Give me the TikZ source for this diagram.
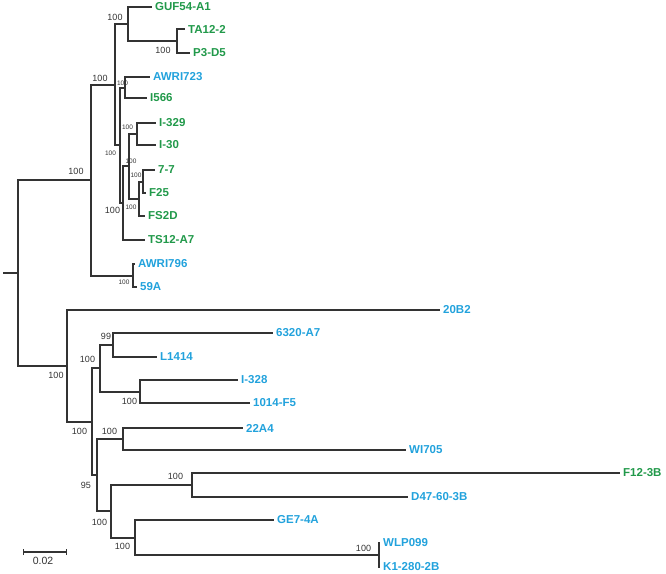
\documentclass[tikz,border=0pt]{standalone}
\usepackage{fontspec}
\setmainfont{Liberation Sans}
\usetikzlibrary{arrows.meta}
\definecolor{greenstrain}{HTML}{21994A}
\definecolor{bluestrain}{HTML}{22A2DC}
\definecolor{branchcolor}{HTML}{333333}
\tikzset{
  phy branch/.style={draw=branchcolor,line width=1.8pt},
  phy leaf/.style={anchor=west,inner xsep=3pt,inner ysep=0pt,font=\fontsize{11.5}{11.5}\selectfont\bfseries},
  phy boot/.style={text=branchcolor,inner sep=0pt,font=\fontsize{9}{9}\selectfont},
  phy bootsmall/.style={text=branchcolor,inner sep=0pt,font=\fontsize{6.5}{6.5}\selectfont},
  phy scale/.style={draw=branchcolor,line width=1.3pt,{Bar[width=6pt]}-{Bar[width=6pt]}}
}

\begin{document}
\begin{tikzpicture}[x=1pt,y=-1pt]
  \useasboundingbox (0,0) rectangle (666,573);
  % inner nodes
  \foreach \nm/\x/\y in {root/18/273,n1/91/180,nA/115/85,nB/128/24,nK/177/41,nC/120/145,
      nD/125/88,nE/123/203,nF/129/166,nG/137/134,nH/139/199,nI/143/182,nJ/133/276,
      n2/67/366,n3/92/422,n4/100/368,n6/113/345,n7/140/392,n5/97/475,n8/123/439,
      n9/111/511,n10/192/485,n11/135/538,n12/379/555}{\coordinate (\nm) at (\x,\y);}
  \coordinate (stub) at (3,273);
  % strains
  \foreach \nm/\x/\y/\lab/\col in {guf/152/7/GUF54-A1/greenstrain,ta/185/29/TA12-2/greenstrain,
      p3/190/53/P3-D5/greenstrain,awri723/150/77/AWRI723/bluestrain,i566/147/98/I566/greenstrain,
      i329/156/123/I-329/greenstrain,i30/156/145/I-30/greenstrain,sevn/155/170/7-7/greenstrain,
      f25/146/193/F25/greenstrain,fs2d/145/216/FS2D/greenstrain,ts/145/240/TS12-A7/greenstrain,
      awri796/135/264/AWRI796/bluestrain,a59/137/287/59A/bluestrain,b20/440/310/20B2/bluestrain,
      a6320/273/333/6320-A7/bluestrain,l1414/157/357/L1414/bluestrain,i328/238/380/I-328/bluestrain,
      f1014/250/403/1014-F5/bluestrain,a22/243/428/22A4/bluestrain,wi705/406/450/WI705/bluestrain,
      f12/620/473/F12-3B/greenstrain,d47/408/497/D47-60-3B/bluestrain,ge7/274/520/GE7-4A/bluestrain,
      wlp/380/543/WLP099/bluestrain,k1/380/567/K1-280-2B/bluestrain}
    {\node[phy leaf,text=\col] (\nm) at (\x,\y) {\lab};}
  % branches
  \draw[phy branch] (stub) -- (root);
  \foreach \p/\c in {root/n1,root/n2,n1/nA,n1/nJ,nA/nB,nA/nC,nB/guf.west,nB/nK,nK/ta.west,nK/p3.west,
      nC/nD,nC/nE,nD/awri723.west,nD/i566.west,nE/nF,nE/ts.west,nF/nG,nF/nH,nG/i329.west,nG/i30.west,
      nH/nI,nH/fs2d.west,nI/sevn.west,nI/f25.west,nJ/awri796.west,nJ/a59.west,
      n2/b20.west,n2/n3,n3/n4,n3/n5,n4/n6,n4/n7,n6/a6320.west,n6/l1414.west,n7/i328.west,n7/f1014.west,
      n5/n8,n5/n9,n8/a22.west,n8/wi705.west,n9/n10,n9/n11,n10/f12.west,n10/d47.west,
      n11/ge7.west,n11/n12,n12/wlp.west,n12/k1.west}{\draw[phy branch] (\p) |- (\c);}
  % bootstrap values
  \foreach \nm/\x/\y/\v in {bn1/76/171/100,bA/100/78/100,bB/115/17/100,bK/163/50.5/100,bE/112.5/210.5/100,
      bn2/56/375/100,bn4/87.5/359.5/100,bn6/106/336.5/99,bn7/129.5/401.5/100,bn3/79.5/431/100,
      bn5/86/485/95,bn8/109.5/431/100,bn9/99.5/522.5/100,bn10/175.5/476.5/100,bn11/122.5/546/100,
      bn12/363.5/548.5/100}{\node[phy boot] (\nm) at (\x,\y) {\v};}
  \foreach \nm/\x/\y in {bC/110.5/153.5,bD/122.5/83.5,bG/127.5/127,bF/131/161.5,bI/136/175.5,
      bH/131/207.5,bJ/124/282.5}{\node[phy bootsmall] (\nm) at (\x,\y) {100};}
  % scale bar
  \coordinate (sbl) at (23,552);
  \coordinate (sbr) at (67,552);
  \draw[phy scale] (sbl) -- (sbr);
  \node[text=branchcolor,font=\fontsize{10.5}{10.5}\selectfont] (sblab) at (43,561) {0.02};
\end{tikzpicture}
\end{document}
